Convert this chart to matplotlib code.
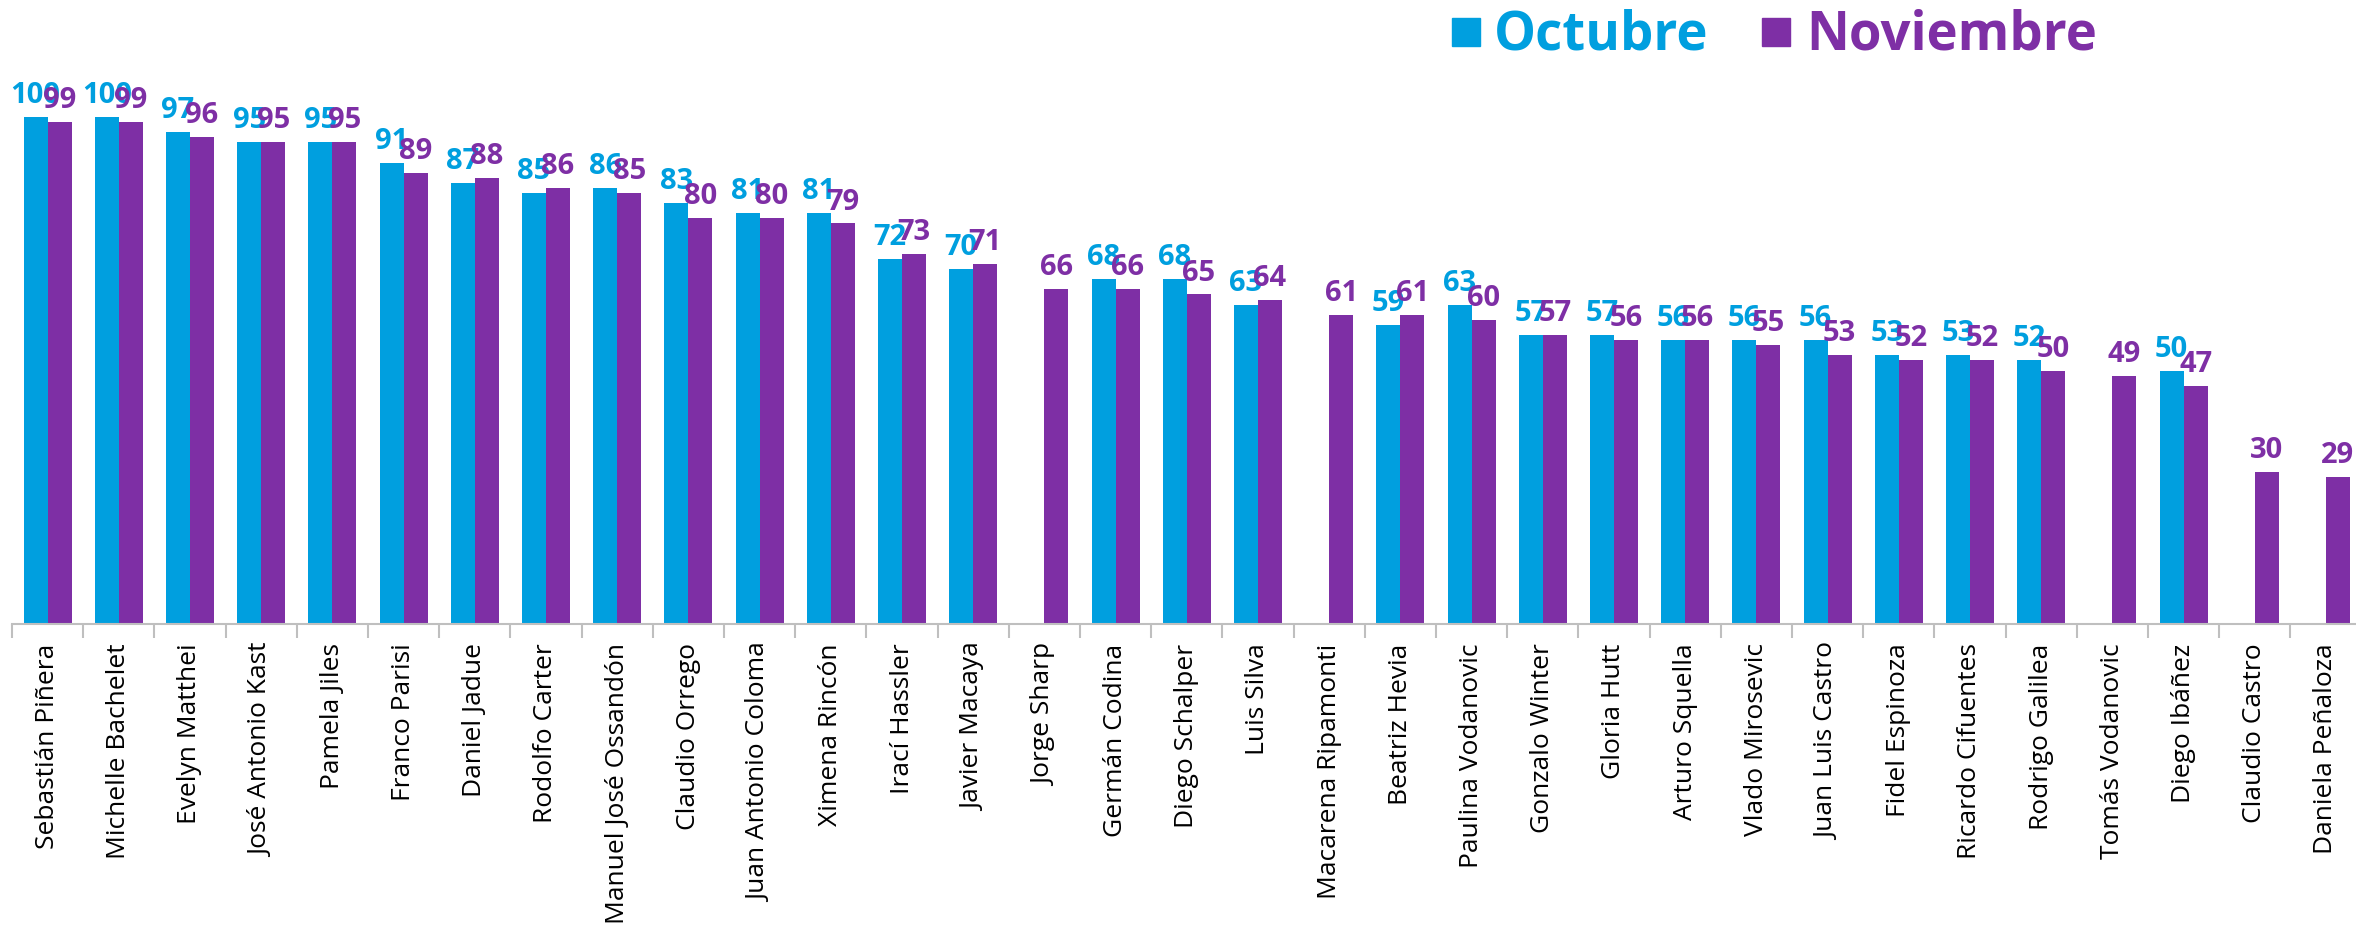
import numpy as np
import matplotlib
matplotlib.use("Agg")
import matplotlib.pyplot as plt
from matplotlib.patches import Rectangle

names = ["Sebastián Piñera", "Michelle Bachelet", "Evelyn Matthei", "José Antonio Kast",
         "Pamela Jiles", "Franco Parisi", "Daniel Jadue", "Rodolfo Carter",
         "Manuel José Ossandón", "Claudio Orrego", "Juan Antonio Coloma", "Ximena Rincón",
         "Irací Hassler", "Javier Macaya", "Jorge Sharp", "Germán Codina", "Diego Schalper",
         "Luis Silva", "Macarena Ripamonti", "Beatriz Hevia", "Paulina Vodanovic",
         "Gonzalo Winter", "Gloria Hutt", "Arturo Squella", "Vlado Mirosevic",
         "Juan Luis Castro", "Fidel Espinoza", "Ricardo Cifuentes", "Rodrigo Galilea",
         "Tomás Vodanovic", "Diego Ibáñez", "Claudio Castro", "Daniela Peñaloza"]
octubre = [100, 100, 97, 95, 95, 91, 87, 85, 86, 83, 81, 81, 72, 70, None, 68, 68, 63, None,
           59, 63, 57, 57, 56, 56, 56, 53, 53, 52, None, 50, None, None]
noviembre = [99, 99, 96, 95, 95, 89, 88, 86, 85, 80, 80, 79, 73, 71, 66, 66, 65, 64, 61,
             61, 60, 57, 56, 56, 55, 53, 52, 52, 50, 49, 47, 30, 29]
series_names = ["Octubre", "Noviembre"]

C_OCT = "#009FDF"
C_NOV = "#7E2FA5"
FONT = ["Open Sans", "DejaVu Sans"]
plt.rcParams["font.family"] = FONT

W, H = 2356, 950
fig = plt.figure(figsize=(W / 100, H / 100), dpi=100)
n = len(names)
left_px, right_px = 12, 12 + n * 71.2
base_px, top_px = 624, 624 - 110 * 5.07
ax = fig.add_axes([left_px / W, (H - base_px) / H, (right_px - left_px) / W, (base_px - top_px) / H])

x = np.arange(n)
bw = 0.337
oct_vals = np.array([np.nan if v is None else v for v in octubre], dtype=float)
nov_vals = np.array(noviembre, dtype=float)

ax.bar(x - bw / 2, oct_vals, bw, color=C_OCT, zorder=2)
ax.bar(x + bw / 2, nov_vals, bw, color=C_NOV, zorder=2)

for i, v in enumerate(oct_vals):
    if not np.isnan(v):
        ax.annotate(f"{int(v)}", (x[i] - bw / 2, v), xytext=(0, 5), textcoords="offset points",
                    ha="center", va="bottom", fontsize=21, fontweight="bold", color=C_OCT, zorder=3)
for i, v in enumerate(nov_vals):
    ax.annotate(f"{int(v)}", (x[i] + bw / 2, v), xytext=(0, 5), textcoords="offset points",
                ha="center", va="bottom", fontsize=21, fontweight="bold", color=C_NOV, zorder=4)

ax.set_xlim(-0.5, n - 0.5)
ax.set_ylim(0, 110)
for s in ["top", "right", "left"]:
    ax.spines[s].set_visible(False)
ax.spines["bottom"].set_color("#BFBFBF")
ax.spines["bottom"].set_linewidth(1.5)
ax.set_yticks([])
ax.set_xticks(x)
ax.set_xticklabels(names, rotation=90, fontsize=19, color="#000000")
ax.tick_params(axis="x", which="major", length=0, pad=14)
ax.set_xticks(np.arange(n + 1) - 0.5, minor=True)
ax.tick_params(axis="x", which="minor", length=10, color="#BFBFBF", width=1.5)

# legend
items = [(1452, 1494, C_OCT, series_names[0]), (1762, 1806, C_NOV, series_names[1])]
for sq_x, tx_x, col, label in items:
    fig.patches.append(Rectangle((sq_x / W, (H - 46) / H), 28 / W, 28 / H,
                                 transform=fig.transFigure, color=col))
    fig.text(tx_x / W, (H - 49) / H, label, fontsize=38, fontweight="bold", color=col,
             ha="left", va="baseline")

fig.savefig("out.png", dpi=100)
